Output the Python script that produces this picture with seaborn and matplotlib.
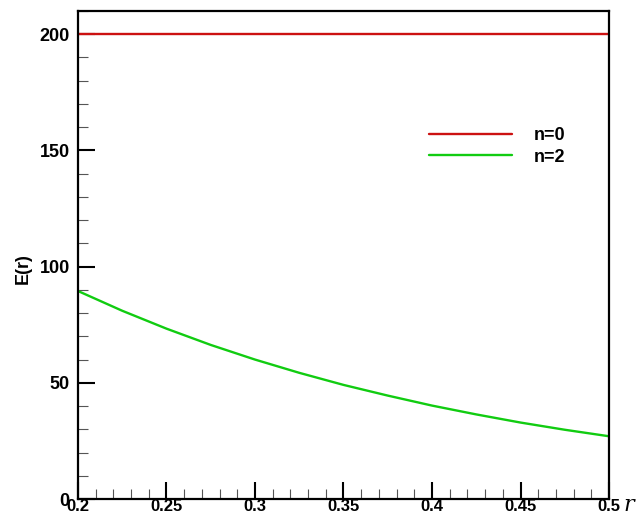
import numpy as np
import pandas as pd
import matplotlib
matplotlib.use("Agg")
import matplotlib.pyplot as plt
from matplotlib.ticker import MultipleLocator
import seaborn as sns

r_vals = [0.2, 0.225, 0.25, 0.275, 0.3, 0.325, 0.35, 0.375, 0.4, 0.425, 0.45, 0.475, 0.5]
e_n0 = [200, 200, 200, 200, 200, 200, 200, 200, 200, 200, 200, 200, 200]
e_n2 = [89.5, 81.0, 73.3, 66.3, 60.0, 54.3, 49.1, 44.5, 40.2, 36.4, 32.9, 29.8, 27.0]
series_labels = ["n=0", "n=2"]

df = pd.DataFrame({
    "r": r_vals * 2,
    "E": e_n0 + e_n2,
    "n": [series_labels[0]] * len(r_vals) + [series_labels[1]] * len(r_vals),
})

sns.set_style("ticks")
plt.rcParams["font.family"] = ["Liberation Sans", "DejaVu Sans"]
plt.rcParams["text.color"] = "black"
plt.rcParams["xtick.color"] = "black"
plt.rcParams["ytick.color"] = "black"
plt.rcParams["axes.labelcolor"] = "black"

fig = plt.figure(figsize=(6.41, 5.17), dpi=100)
ax = fig.add_axes([78 / 641, 1 - 499 / 517, (609 - 78) / 641, (499 - 11) / 517])

sns.lineplot(data=df, x="r", y="E", hue="n", palette=["#cc1111", "#11cc11"],
             linewidth=1.7, ax=ax, legend=True)

ax.set_xlim(0.2, 0.5)
ax.set_ylim(0, 210)
ax.xaxis.set_major_locator(MultipleLocator(0.05))
ax.xaxis.set_minor_locator(MultipleLocator(0.01))
ax.yaxis.set_major_locator(MultipleLocator(50))
ax.yaxis.set_minor_locator(MultipleLocator(10))
ax.set_xticks([0.2, 0.25, 0.3, 0.35, 0.4, 0.45, 0.5])
ax.set_xticklabels(["0.2", "0.25", "0.3", "0.35", "0.4", "0.45", "0.5"])

ax.tick_params(which="major", direction="in", length=12, width=1.5, labelsize=13,
               top=False, right=False)
ax.tick_params(axis="y", which="major", pad=6)
ax.tick_params(axis="x", which="major", pad=0, labelsize=12)
ax.tick_params(which="minor", direction="in", length=7, width=0.8, color="#555555",
               top=False, right=False)
for lab in ax.get_xticklabels() + ax.get_yticklabels():
    lab.set_fontweight("bold")
for sp in ax.spines.values():
    sp.set_linewidth(1.6)
    sp.set_color("black")

ax.set_xlabel("")
ax.set_ylabel("E(r)", fontsize=13, fontweight="bold")
ax.yaxis.set_label_coords(-0.088, 0.473)
fig.text(623 / 641, 1 - 511 / 517, "r", fontsize=16, style="italic",
         family="DejaVu Serif", ha="left", va="baseline")

leg = ax.legend(loc="upper left", bbox_to_anchor=(0.63, 0.795), frameon=False,
                fontsize=13, handlelength=4.6, handletextpad=1.2, labelspacing=0.25)
for t in leg.get_texts():
    t.set_fontweight("bold")

fig.savefig("out.png", dpi=100)
